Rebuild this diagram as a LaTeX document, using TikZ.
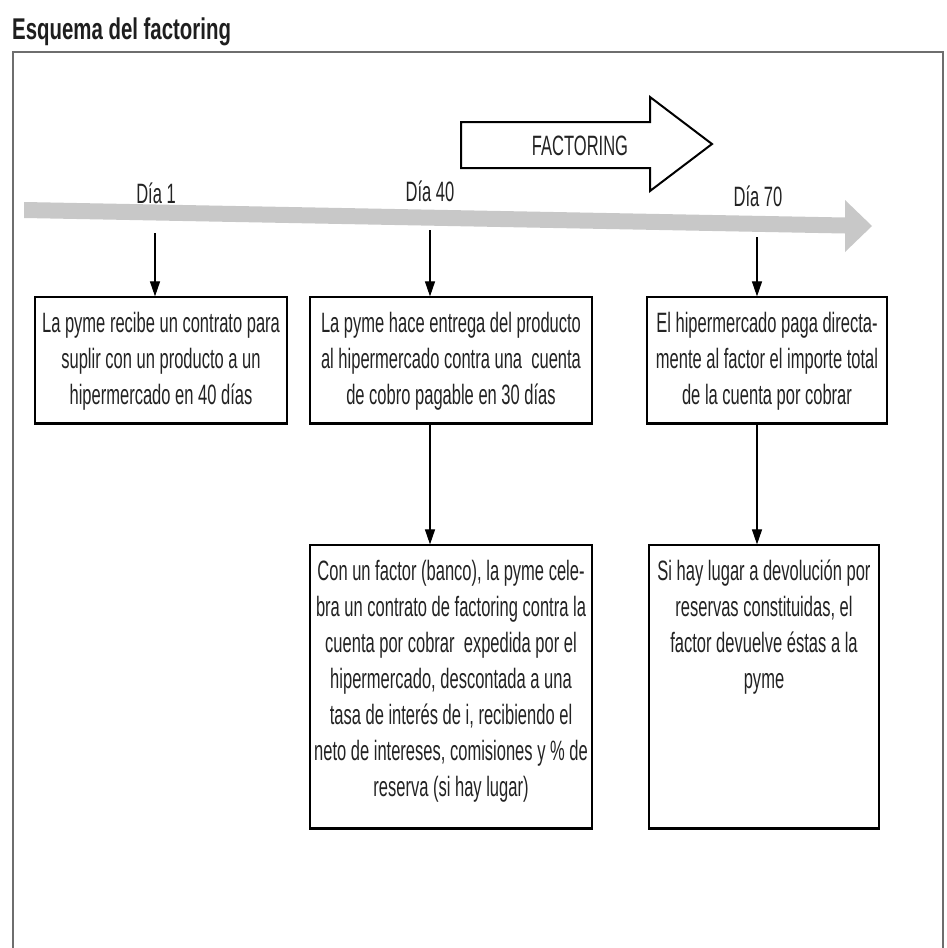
\documentclass[tikz,border=0pt]{standalone}
\usepackage{fontspec}
\setmainfont{Liberation Sans}[FakeStretch=0.59]
\newfontfamily\ttlfont{Liberation Sans}[FakeStretch=0.68]
\usetikzlibrary{arrows.meta}
\definecolor{tlgray}{RGB}{200,200,200}
\definecolor{txtc}{RGB}{35,35,35}
\definecolor{framec}{RGB}{110,110,110}
\newcommand{\bxt}[3]{\parbox[c][#2][t]{#1}{\centering\rule{0pt}{35pt}#3}}
\tikzset{
  bx/.style={draw=black, line width=1.2pt, inner sep=0pt, text=txtc,
             font=\fontsize{28pt}{36pt}\selectfont},
  lbl/.style={anchor=base, text=txtc, font=\fontsize{28pt}{30pt}\selectfont},
  arr/.style={line width=1.1pt, -{Triangle[length=15pt,width=10pt]}},
  shadowline/.style={line width=2.8pt}
}
\begin{document}
\begin{tikzpicture}[x=1pt, y=-1pt]
\useasboundingbox[fill=white] (0,0) rectangle (947,948);

% title
\node[anchor=base west, inner sep=0pt, text={rgb,255:red,30;green,30;blue,30},
      font=\ttlfont\bfseries\fontsize{30pt}{32pt}\selectfont] (title) at (12,39) {Esquema del factoring};

% frame
\draw[framec, line width=2.5pt] (13,948) -- (13,52) -- (943,52) -- (943,948);

% timeline
\fill[tlgray] (24,202) -- (845,217.5) -- (845,200) -- (872,226) -- (845,252) -- (845,233.5) -- (24,218) -- cycle;

% FACTORING arrow
\draw[line width=2pt, fill=white, line join=miter] (461,122) -- (650,122) -- (650,97) -- (712,144) -- (650,191) -- (650,168) -- (461,168) -- cycle;
\node[text=txtc, font=\fontsize{28pt}{30pt}\selectfont, inner sep=0pt] (fact) at (580,146) {FACTORING};

% day labels
\node[lbl] (d1) at (156,203) {Día 1};
\node[lbl] (d40) at (430,201) {Día 40};
\node[lbl] (d70) at (758,206) {Día 70};

% boxes
\node[bx] (b1) at (161,360) {\bxt{252pt}{126pt}{La pyme recibe un contrato para\\suplir con un producto a un\\hipermercado en 40 días}};
\node[bx] (b2) at (451,360) {\bxt{282pt}{126pt}{La pyme hace entrega del producto\\al hipermercado contra una\ \ cuenta\\de cobro pagable en 30 días}};
\node[bx] (b3) at (767,360) {\bxt{240pt}{126pt}{El hipermercado paga directa-\\mente al factor el importe total\\de la cuenta por cobrar}};
\node[bx] (b4) at (451,686.5) {\bxt{282pt}{283pt}{Con un factor (banco), la pyme cele-\\bra un contrato de factoring contra la\\cuenta por cobrar\ \ expedida por el\\hipermercado, descontada a una\\tasa de interés de i, recibiendo el\\neto de intereses, comisiones y \% de\\reserva (si hay lugar)}};
\node[bx] (b5) at (764,686.5) {\bxt{230pt}{283pt}{Si hay lugar a devolución por\\reservas constituidas, el\\factor devuelve éstas a la\\pyme}};

% thicker bottom edges
\foreach \b in {b1,b2,b3,b4,b5} {
  \draw[shadowline] (\b.south west) -- (\b.south east);
}

% connectors
\coordinate (s1) at (155,233);
\coordinate (s2) at (430,230);
\coordinate (s3) at (757,237);
\draw[arr] (s1) -- (s1 |- b1.north);
\draw[arr] (s2) -- (s2 |- b2.north);
\draw[arr] (s3) -- (s3 |- b3.north);
\draw[arr] (b2.south -| s2) -- (s2 |- b4.north);
\draw[arr] (b3.south -| s3) -- (s3 |- b5.north);
\end{tikzpicture}
\end{document}
